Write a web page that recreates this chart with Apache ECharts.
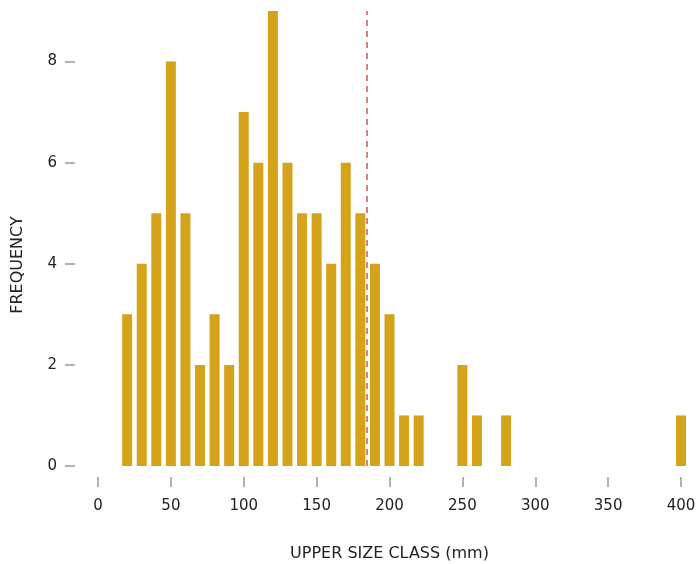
<!DOCTYPE html>
<html>
<head>
<meta charset="utf-8">
<script src="https://cdn.jsdelivr.net/npm/echarts@6/dist/echarts.min.js"></script>
<style>html,body{margin:0;padding:0;background:#fff}#c{width:700px;height:564px}</style>
</head>
<body>
<div id="c"></div>
<script>
const sizeClasses = [20,30,40,50,60,70,80,90,100,110,120,130,140,150,160,170,180,190,200,210,220,250,260,280,400];
const frequencies = [3,4,5,8,5,2,3,2,7,6,9,6,5,5,4,6,5,4,3,1,1,2,1,1,1];
const xTicks = [0,50,100,150,200,250,300,350,400];
const yTicks = [0,2,4,6,8];
const markerValue = 184.5;

const chart = echarts.init(document.getElementById('c'), null, {renderer:'canvas'});
const font = '"DejaVu Sans", sans-serif';
chart.setOption({
  animation:false,
  grid:{left:98, right:19, top:11, bottom:98, containLabel:false, outerBoundsMode:'none'},
  xAxis:{
    type:'value', min:0, max:400, interval:50,
    offset:11,
    splitLine:{show:false},
    axisLine:{show:false, onZero:false},
    axisTick:{show:true, length:10, lineStyle:{color:'#999', width:1.5}, customValues:xTicks},
    axisLabel:{color:'#222', fontSize:15, fontFamily:font, margin:22, customValues:xTicks},
    name:'UPPER SIZE CLASS (mm)', nameLocation:'middle', nameGap:69,
    nameTextStyle:{color:'#222', fontSize:16, fontFamily:font}
  },
  yAxis:{
    type:'value', min:0, max:9,
    offset:23,
    splitLine:{show:false},
    axisLine:{show:false, onZero:false},
    axisTick:{show:true, length:10, lineStyle:{color:'#999', width:1.5}, customValues:yTicks},
    axisLabel:{color:'#222', fontSize:15, fontFamily:font, margin:18, customValues:yTicks}
  },
  graphic:[{
    type:'text', x:18, y:265, rotation:Math.PI/2,
    style:{text:'FREQUENCY', fill:'#222', font:'16px ' + font, align:'center', verticalAlign:'middle'}
  }],
  series:[{
    type:'bar',
    barWidth:10,
    itemStyle:{color:'#D4A31A'},
    data: sizeClasses.map((x,i)=>[x, frequencies[i]]),
    markLine:{
      silent:true, symbol:'none', label:{show:false},
      lineStyle:{color:'#c9595b', type:[6,5], width:1.5},
      data:[{xAxis:markerValue}]
    }
  }]
});
</script>
</body>
</html>
